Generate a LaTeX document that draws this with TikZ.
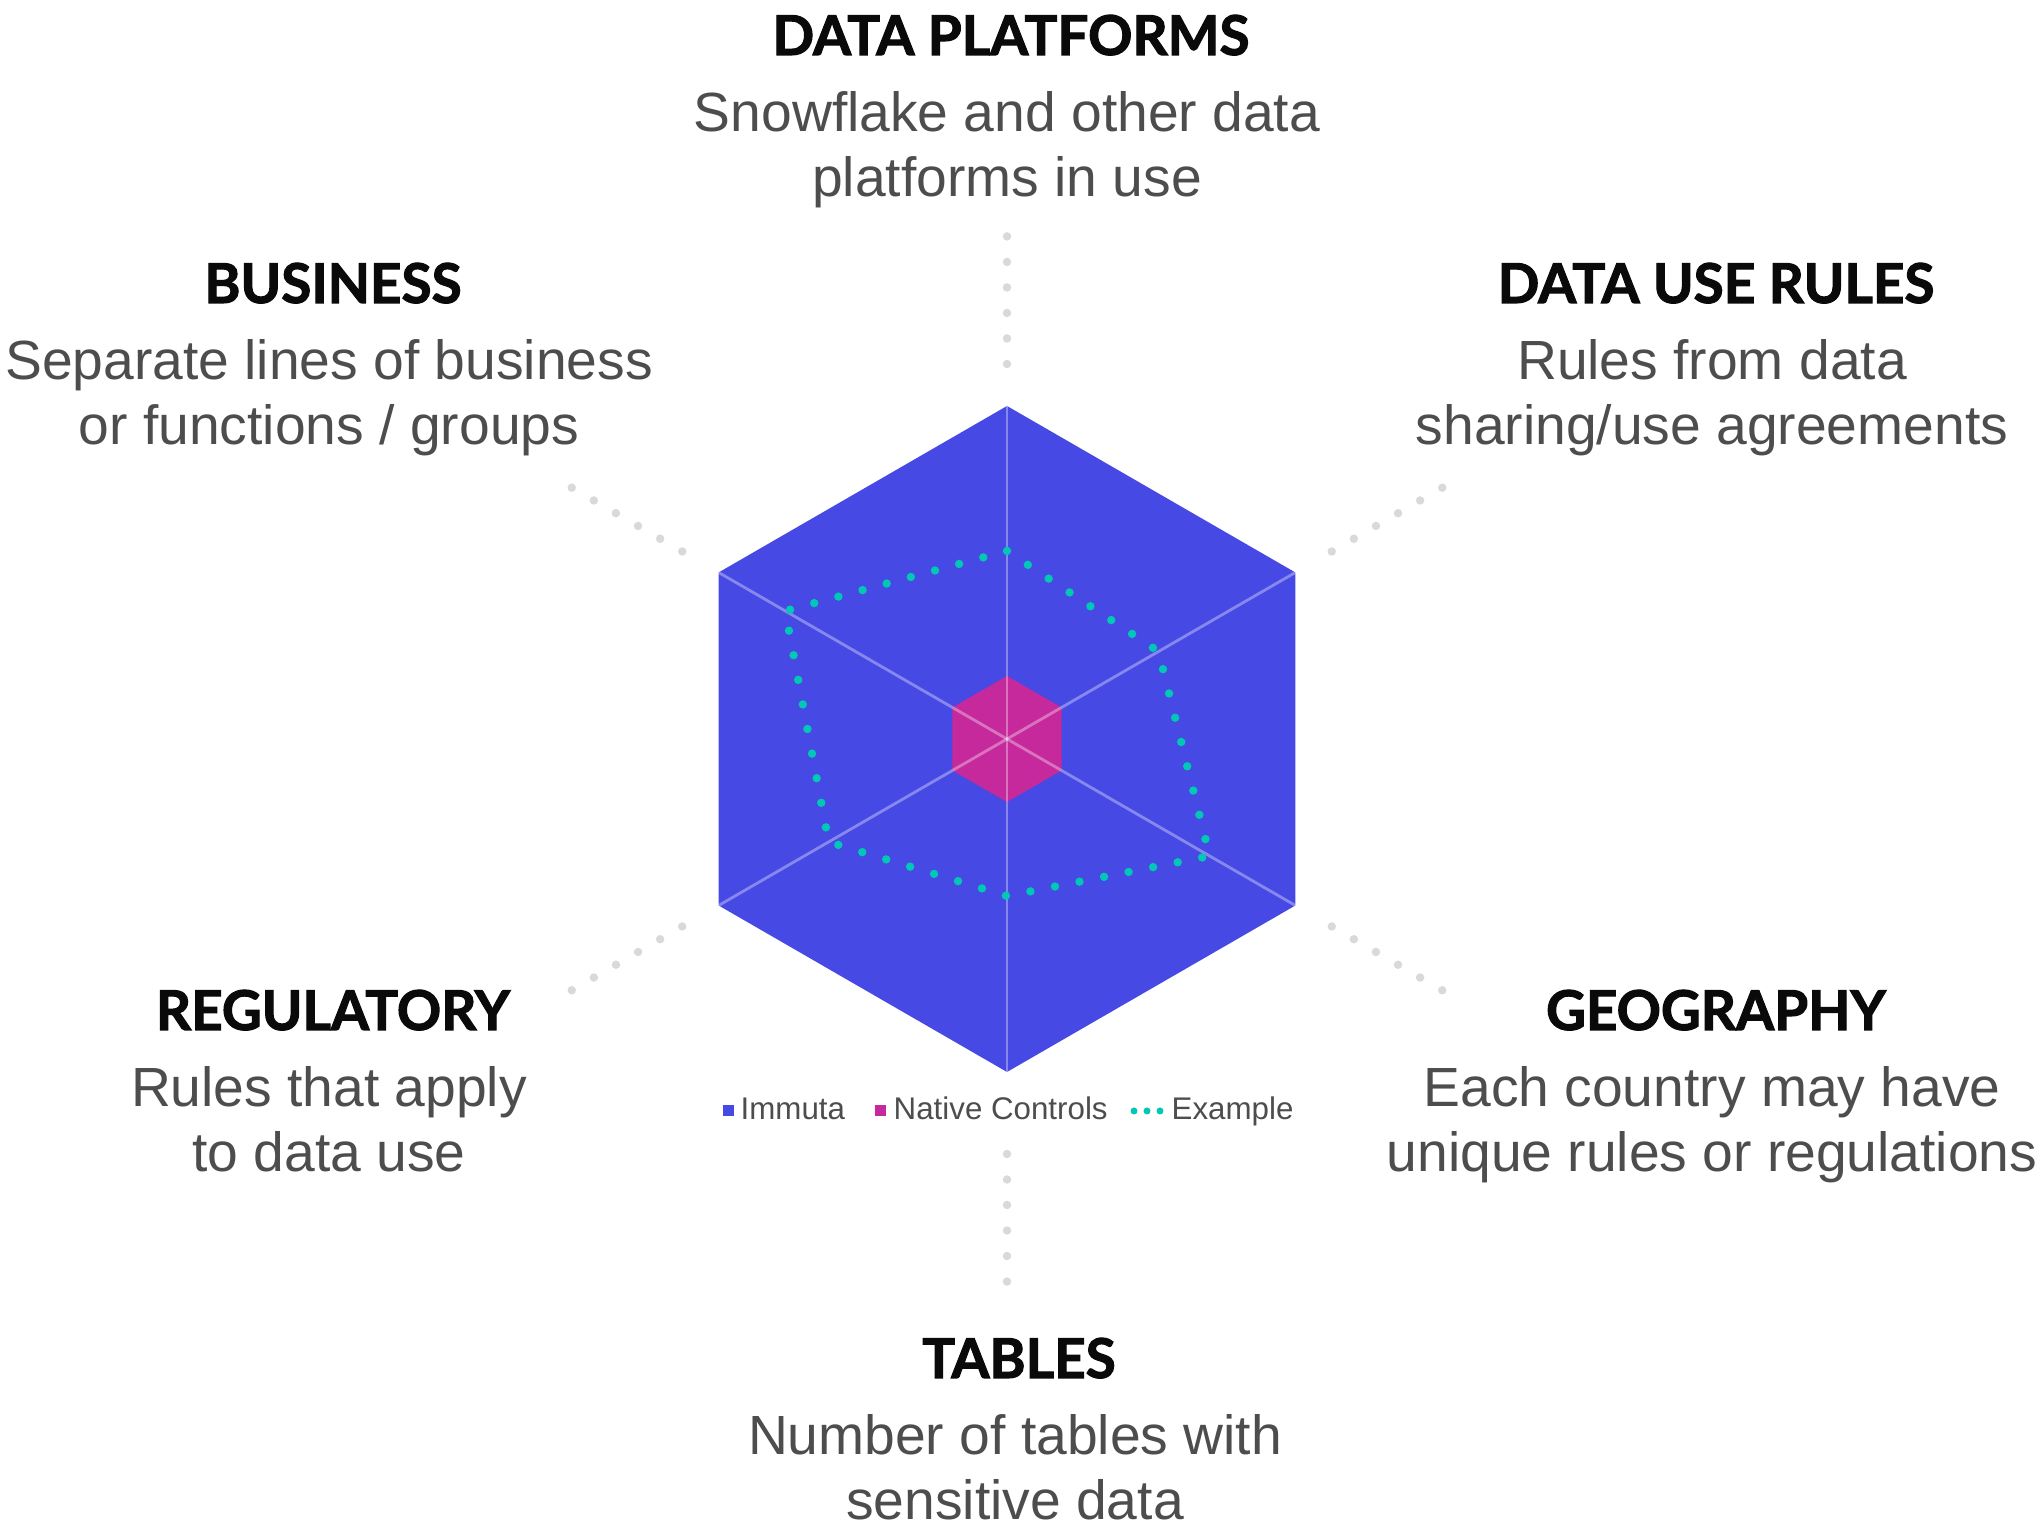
\documentclass[tikz,border=0pt]{standalone}
\usepackage{fontspec}
\setmainfont{Liberation Sans}
\newfontfamily\headfont{Lato}[BoldFeatures={FakeBold=2}]
\usepackage{tikz}
\usetikzlibrary{calc}

\definecolor{immutablue}{HTML}{4649E4}
\definecolor{nativepink}{HTML}{C5299B}
\definecolor{exampleteal}{HTML}{00C8B4}
\definecolor{dotgray}{HTML}{D9D9D9}
\definecolor{bodygray}{HTML}{4D4D4D}
\definecolor{headblack}{HTML}{0A0A0A}

\newcommand\axislabel[6]{%
  \node[headtext] (#1) at (#2,#3) {#4};
  \node[bodytext] (#1a) at (#2-4,#3-77) {#5};
  \node[bodytext] (#1b) at (#2-4,#3-142) {#6};
}

\begin{document}
\begin{tikzpicture}[x=0.01cm, y=0.01cm,
  headtext/.style={anchor=base, inner sep=0pt, text=headblack,
    font=\headfont\bfseries\fontsize{15.6}{18}\selectfont},
  bodytext/.style={anchor=base, inner sep=0pt, text=bodygray,
    font=\fontsize{15.7}{19}\selectfont},
  legendtext/.style={anchor=base west, inner sep=0pt, text=bodygray,
    font=\fontsize{8.9}{10}\selectfont},
  legendkey/.style={minimum size=0.11cm, inner sep=0pt},
  spoke/.style={white, opacity=0.35, line width=0.8pt},
  exampleline/.style={exampleteal, line width=2.4pt, line cap=round,
    dash pattern=on 0pt off 0.25cm},
  guideline/.style={dotgray, line width=2.4pt, line cap=round,
    dash pattern=on 0pt off 0.255cm}]
\fill[white] (0,0) rectangle (2038,1525);
\useasboundingbox (0,0) rectangle (2038,1525);

\coordinate (c) at (1007,786);
\foreach \a/\r [count=\i] in {90/188, 30/175, -30/234, -90/157, -150/206, 150/256} {
  \coordinate (v\i) at ($(c)+(\a:333)$);
  \coordinate (n\i) at ($(c)+(\a:63)$);
  \coordinate (e\i) at ($(c)+(\a:\r)$);
}

\fill[immutablue] (v1) -- (v2) -- (v3) -- (v4) -- (v5) -- (v6) -- cycle;
\fill[nativepink] (n1) -- (n2) -- (n3) -- (n4) -- (n5) -- (n6) -- cycle;
\foreach \i in {1,...,6} \draw[spoke] (c) -- (v\i);
\draw[exampleline] (e1) -- (e2) -- (e3) -- (e4) -- (e5) -- (e6) -- cycle;

\foreach \a/\r/\s [count=\i] in {90/375/506, 30/375/506, -30/375/506,
    -90/415/545, -150/375/506, 150/375/506} {
  \coordinate (ga\i) at ($(c)+(\a:\r)$);
  \coordinate (gb\i) at ($(c)+(\a:\s)$);
  \draw[guideline] (ga\i) -- (gb\i);
}

\axislabel{platforms}{1011}{1470}{DATA PLATFORMS}{Snowflake and other data}{platforms in use}
\axislabel{business}{333}{1222}{BUSINESS}{Separate lines of business}{or functions / groups}
\axislabel{userules}{1716}{1222}{DATA USE RULES}{Rules from data}{sharing/use agreements}
\axislabel{regulatory}{333}{495}{REGULATORY}{Rules that apply}{to data use}
\axislabel{geography}{1716}{495}{GEOGRAPHY}{Each country may have}{unique rules or regulations}
\axislabel{tables}{1019}{147}{TABLES}{Number of tables with}{sensitive data}

\node[legendkey, fill=immutablue] (kimmuta) at (728.5,414) {};
\node[legendtext] (timmuta) at (740,405) {Immuta};
\node[legendkey, fill=nativepink] (knative) at (880.5,414) {};
\node[legendtext] (tnative) at (893,405) {Native Controls};
\foreach \x in {1134,1147,1160} \fill[exampleteal] (\x,414) circle (3.5);
\node[legendtext] (texample) at (1171,405) {Example};
\end{tikzpicture}
\end{document}
